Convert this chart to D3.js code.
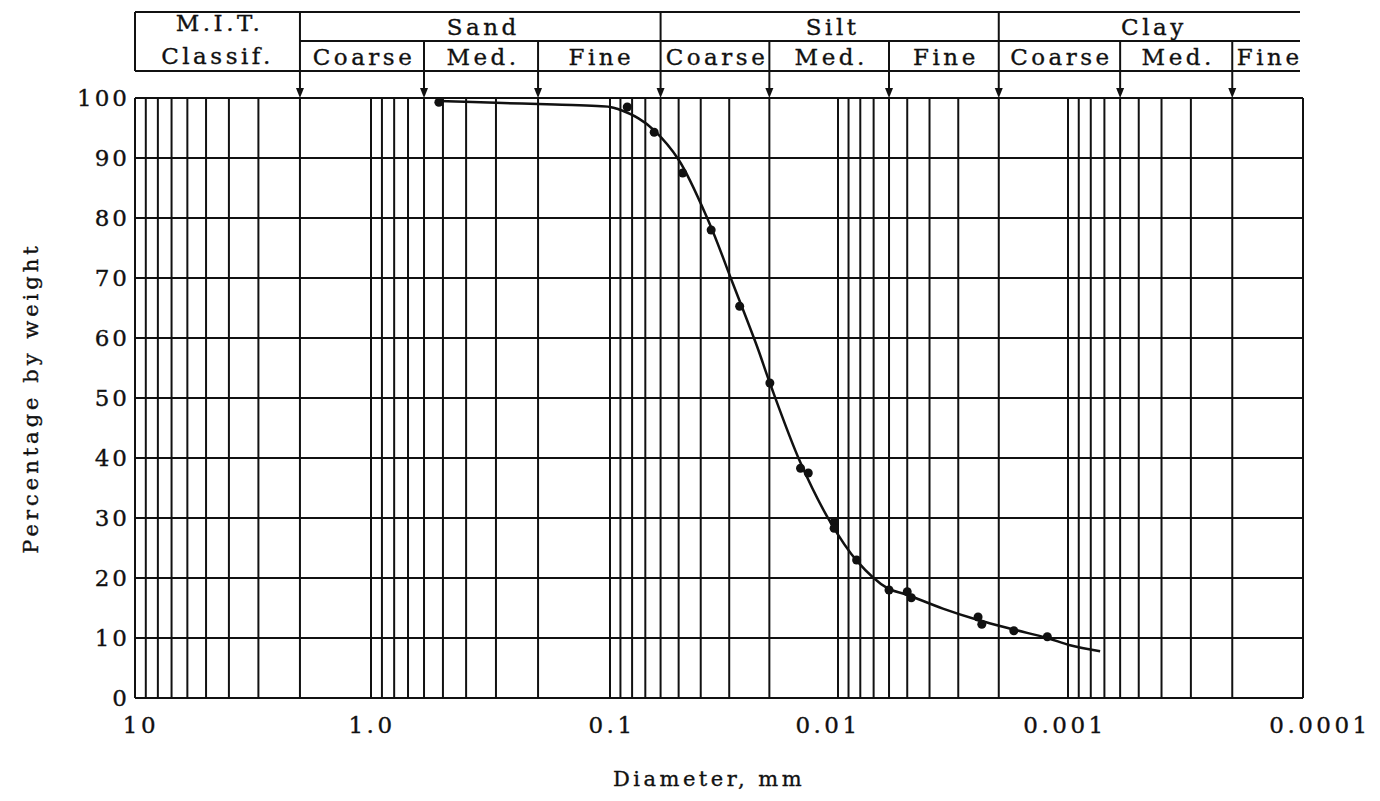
<!DOCTYPE html>
<html>
<head>
<meta charset="utf-8">
<script src="https://cdn.jsdelivr.net/npm/d3@7"></script>
<style>
    body { margin: 0; background: #fff; }
    svg text { font-family: "DejaVu Serif", serif; fill: #111; stroke: #111; stroke-width: 0.35px; }
</style>
</head>
<body>
<div class="vis"></div>
<script>
    // decade marks of the log paper and their labels
    const decades = [10, 1, 0.1, 0.01, 0.001, 0.0001];
    const xTickLabels = ["10", "1.0", "0.1", "0.01", "0.001", "0.0001"];
    const yTicks = [0, 10, 20, 30, 40, 50, 60, 70, 80, 90, 100];

    // M.I.T. classification
    const groups = ["Sand", "Silt", "Clay"];
    const groupEdges = [[2, 0.06], [0.06, 0.002], [0.002, 0.0001]];
    const subNames = ["Coarse", "Med.", "Fine"];
    const subEdges = [
        [2, 0.6], [0.6, 0.2], [0.2, 0.06],
        [0.06, 0.02], [0.02, 0.006], [0.006, 0.002],
        [0.002, 0.0006], [0.0006, 0.0002], [0.0002, 0.0001]
    ];
    const majorArrows = [2, 0.06, 0.002];
    const minorArrows = [0.6, 0.2, 0.02, 0.006, 0.0006, 0.0002];

    // drawn grading curve
    const curveD = [0.52, 0.3, 0.17, 0.1, 0.093, 0.075, 0.064, 0.05, 0.037, 0.029, 0.0226, 0.0199,
        0.0146, 0.0108, 0.0083, 0.0061, 0.005, 0.0035, 0.00246, 0.00172, 0.00123, 0.00098, 0.00073];
    const curveP = [99.5, 99.2, 98.9, 98.5, 98.2, 96.6, 94.6, 89.7, 79.5, 69.2, 58.5, 52.5,
        39.2, 29.3, 22.9, 18.3, 17.2, 14.9, 13.0, 11.4, 10.0, 8.8, 7.8];

    // measured points
    const pointD = [0.52, 0.084, 0.064, 0.048, 0.036, 0.027, 0.0199, 0.0146, 0.0135, 0.0104, 0.0104,
        0.0083, 0.006, 0.005, 0.0048, 0.00246, 0.00237, 0.00172, 0.00123];
    const pointP = [99.3, 98.5, 94.3, 87.5, 78, 65.3, 52.5, 38.3, 37.5, 29.3, 28.3,
        23, 18, 17.7, 16.7, 13.5, 12.3, 11.2, 10.2];

    const width = 1380, height = 801;
    const plot = { left: 135, right: 1303, top: 98, bottom: 698 };
    const head = { top: 12, mid: 41, low: 71 };
    // typed labels sit a little off their lines
    const xLabelShift = [6, 1, 2, -10, -3, 17];

    const svg = d3.select(".vis").append("svg")
        .attr("width", width)
        .attr("height", height);

    // the printed paper is a little uneven from decade to decade
    const x = d3.scaleLog()
        .domain(decades)
        .range([plot.left, 371, 610, 838, 1068, plot.right]);

    const y = d3.scaleLinear()
        .domain([0, 100])
        .range([plot.bottom, plot.top]);

    const ink = "#111";

    // grid
    const grid = svg.append("g").attr("stroke", ink).attr("stroke-width", 2);

    grid.selectAll(".v")
        .data(x.ticks())
        .enter().append("line")
        .attr("class", "v")
        .attr("x1", d => x(d)).attr("x2", d => x(d))
        .attr("y1", plot.top).attr("y2", plot.bottom);

    grid.selectAll(".h")
        .data(yTicks)
        .enter().append("line")
        .attr("class", "h")
        .attr("x1", plot.left).attr("x2", plot.right)
        .attr("y1", d => y(d)).attr("y2", d => y(d));

    // y labels
    svg.selectAll(".ylab")
        .data(yTicks)
        .enter().append("text")
        .attr("class", "ylab")
        .attr("x", plot.left - 5)
        .attr("y", d => y(d))
        .attr("dy", "0.36em")
        .attr("text-anchor", "end")
        .style("font-size", "23px")
        .style("letter-spacing", "3px")
        .text(d => d);

    // x labels
    svg.selectAll(".xlab")
        .data(decades)
        .enter().append("text")
        .attr("class", "xlab")
        .attr("x", (d, i) => x(d) + xLabelShift[i])
        .attr("y", plot.bottom + 35)
        .attr("text-anchor", "middle")
        .style("font-size", "23px")
        .style("letter-spacing", "3.5px")
        .text((d, i) => xTickLabels[i]);

    svg.append("text")
        .attr("x", 709)
        .attr("y", 786)
        .attr("text-anchor", "middle")
        .style("font-size", "21px")
        .style("letter-spacing", "3.5px")
        .text("Diameter, mm");

    svg.append("text")
        .attr("transform", `translate(38, ${(plot.top + plot.bottom) / 2}) rotate(-90)`)
        .attr("text-anchor", "middle")
        .style("font-size", "21px")
        .style("letter-spacing", "4px")
        .text("Percentage by weight");

    // classification header
    const hdr = svg.append("g").attr("stroke", ink).attr("stroke-width", 2);

    hdr.append("line")
        .attr("x1", plot.left).attr("x2", plot.right - 3)
        .attr("y1", head.top).attr("y2", head.top);
    hdr.append("line")
        .attr("x1", x(2)).attr("x2", plot.right - 3)
        .attr("y1", head.mid).attr("y2", head.mid);
    hdr.append("line")
        .attr("x1", plot.left).attr("x2", plot.right - 3)
        .attr("y1", head.low).attr("y2", head.low);
    hdr.append("line")
        .attr("x1", plot.left).attr("x2", plot.left)
        .attr("y1", head.top).attr("y2", head.low);

    const arrows = majorArrows.map(d => ({ d: d, top: head.top }))
        .concat(minorArrows.map(d => ({ d: d, top: head.mid })));

    hdr.selectAll(".arrow")
        .data(arrows)
        .enter().append("line")
        .attr("class", "arrow")
        .attr("x1", a => x(a.d)).attr("x2", a => x(a.d))
        .attr("y1", a => a.top).attr("y2", plot.top - 4);

    svg.selectAll(".head")
        .data(arrows)
        .enter().append("path")
        .attr("class", "head")
        .attr("fill", ink)
        .attr("d", a => `M${x(a.d) - 4},${plot.top - 10}L${x(a.d) + 4},${plot.top - 10}L${x(a.d)},${plot.top}Z`);

    const hdrFont = t => t
        .attr("text-anchor", "middle")
        .style("font-size", "23px")
        .style("letter-spacing", "3.5px");

    svg.append("text")
        .attr("x", (plot.left + x(2)) / 2 + 2)
        .attr("y", 31)
        .call(hdrFont)
        .text("M.I.T.");
    svg.append("text")
        .attr("x", (plot.left + x(2)) / 2)
        .attr("y", 64)
        .call(hdrFont)
        .text("Classif.");

    svg.selectAll(".grp")
        .data(groups)
        .enter().append("text")
        .attr("class", "grp")
        .attr("x", (d, i) => (x(groupEdges[i][0]) + x(groupEdges[i][1])) / 2 + 3)
        .attr("y", 35)
        .call(hdrFont)
        .text(d => d);

    svg.selectAll(".sub")
        .data(subEdges)
        .enter().append("text")
        .attr("class", "sub")
        .attr("x", e => (x(e[0]) + x(e[1])) / 2 + 2)
        .attr("y", 65)
        .call(hdrFont)
        .text((e, i) => subNames[i % 3]);

    // grading curve
    const line = d3.line()
        .x((d, i) => x(curveD[i]))
        .y((d, i) => y(curveP[i]))
        .curve(d3.curveCatmullRom.alpha(0.5));

    svg.append("path")
        .datum(curveD)
        .attr("fill", "none")
        .attr("stroke", ink)
        .attr("stroke-width", 2.5)
        .attr("d", line);

    svg.selectAll(".pt")
        .data(pointD)
        .enter().append("circle")
        .attr("class", "pt")
        .attr("cx", d => x(d))
        .attr("cy", (d, i) => y(pointP[i]))
        .attr("r", 4.5)
        .attr("fill", ink);
</script>
</body>
</html>
